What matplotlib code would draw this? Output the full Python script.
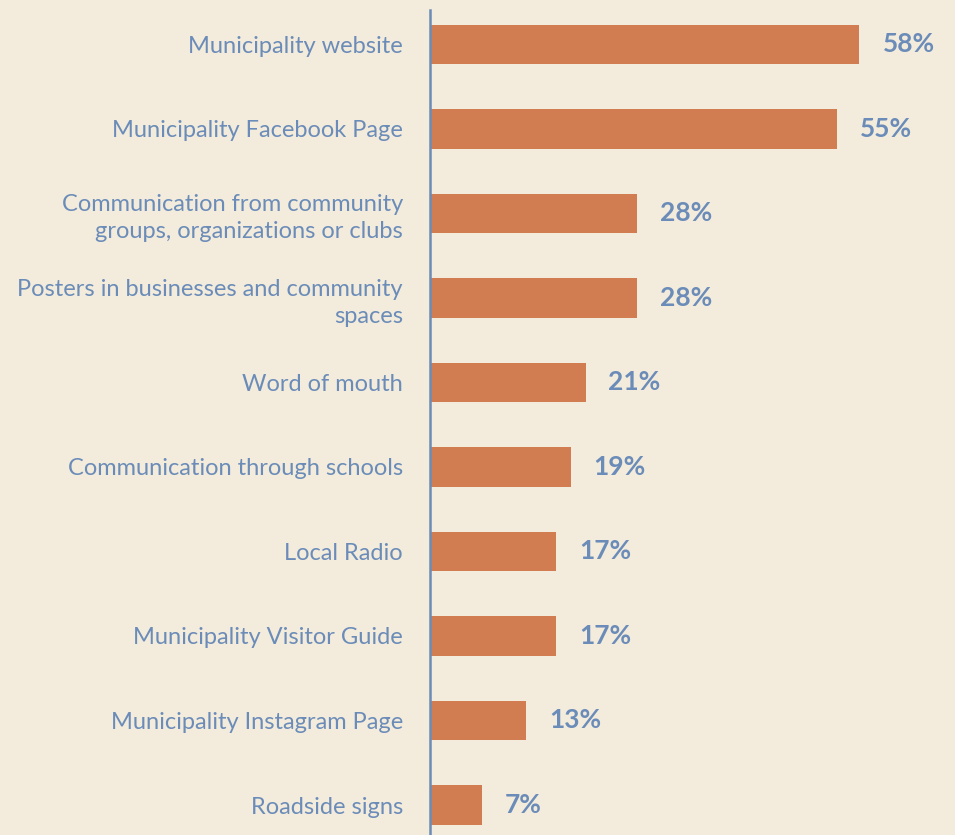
import matplotlib
matplotlib.use('Agg')
import matplotlib.pyplot as plt

# Survey data (top to bottom)
categories = [
    "Municipality website",
    "Municipality Facebook Page",
    "Communication from community\ngroups, organizations or clubs",
    "Posters in businesses and community\nspaces",
    "Word of mouth",
    "Communication through schools",
    "Local Radio",
    "Municipality Visitor Guide",
    "Municipality Instagram Page",
    "Roadside signs",
]
values = [58, 55, 28, 28, 21, 19, 17, 17, 13, 7]

BG = '#F3ECDC'
BAR = '#D17C51'
BLUE = '#6B8CB8'

plt.rcParams['font.family'] = ['Lato', 'DejaVu Sans']

fig = plt.figure(figsize=(9.55, 8.35), dpi=100)
fig.patch.set_facecolor(BG)
# axes: left edge at the vertical axis line, top ~10px below figure top
ax = fig.add_axes([430 / 955, 0, 525 / 955, 825 / 835])
ax.set_facecolor(BG)

pos = list(range(len(categories)))
ax.barh(pos, values, height=0.467, color=BAR, edgecolor='none')

ax.set_xlim(0, 70.9)
ax.set_ylim(9.355, -0.408)

for p, v in zip(pos, values):
    ax.text(v + 3.1, p, f"{v}%", ha='left', va='center',
            fontsize=19, fontweight='bold', color=BLUE)

ax.set_yticks(pos)
ax.set_yticklabels(categories, fontsize=17, color=BLUE, linespacing=1.35)
ax.tick_params(axis='y', length=0, pad=19.5)
ax.set_xticks([])

for s in ['top', 'right', 'bottom']:
    ax.spines[s].set_visible(False)
ax.spines['left'].set_color(BLUE)
ax.spines['left'].set_linewidth(1.8)

fig.savefig('out.png', dpi=100, facecolor=BG)
